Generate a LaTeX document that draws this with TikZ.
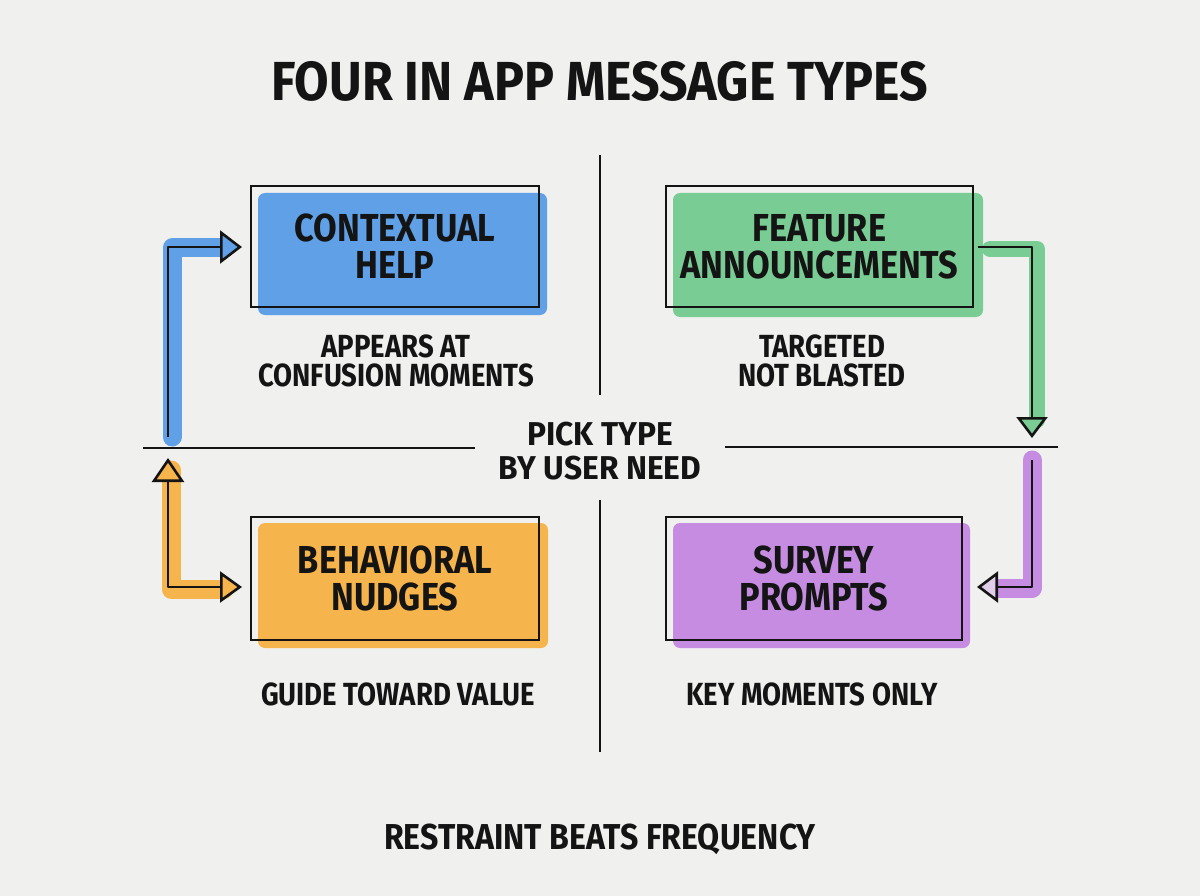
\documentclass[tikz,border=0pt]{standalone}
\usepackage{fontspec}
\setmainfont{Fira Sans}[FakeStretch=0.86]
\newfontfamily\titlefont{Fira Sans}[FakeStretch=0.91]
\newfontfamily\boxfont{Fira Sans}[FakeStretch=0.88]
\newfontfamily\subfont{Fira Sans}[FakeStretch=0.86]
\newfontfamily\centerfont{Fira Sans}[FakeStretch=0.96]
\newfontfamily\footfont{Fira Sans}[FakeStretch=0.89]
\usetikzlibrary{arrows.meta}
\definecolor{bg}{HTML}{F0F0EE}
\definecolor{cblue}{HTML}{5FA0E6}
\definecolor{cgreen}{HTML}{7ACC95}
\definecolor{corange}{HTML}{F6B44C}
\definecolor{cpurple}{HTML}{C58CE2}
\definecolor{ink}{HTML}{141414}
\begin{document}
\begin{tikzpicture}[x=1pt,y=-1pt,
  title/.style={font=\titlefont\bfseries\fontsize{55}{60}\selectfont, text=ink},
  boxlabel/.style={draw=ink, line width=2.8pt, align=center, inner sep=0pt,
    font=\boxfont\bfseries\fontsize{39}{37}\selectfont, text=ink},
  sublabel/.style={align=center, font=\subfont\bfseries\fontsize{32}{29}\selectfont, text=ink},
  centerlabel/.style={align=center, font=\centerfont\bfseries\fontsize{33}{34}\selectfont, text=ink},
  footlabel/.style={font=\footfont\bfseries\fontsize{36}{40}\selectfont, text=ink},
  divider/.style={draw=ink, line width=2pt},
  conn/.style={draw=ink, line width=2.6pt, line join=round},
  band/.style={line width=19pt, line cap=round, line join=round},
]
\fill[bg] (0,0) rectangle (1200,896);
\useasboundingbox (0,0) rectangle (1200,896);

% title
\node[title] (t) at (600,81) {FOUR IN APP MESSAGE TYPES};

% dividers
\coordinate (vt1) at (600,155); \coordinate (vb1) at (600,395);
\coordinate (vt2) at (600,500); \coordinate (vb2) at (600,752);
\coordinate (hl1) at (143,448); \coordinate (hr1) at (475,448);
\coordinate (hl2) at (725,447); \coordinate (hr2) at (1058,447);
\draw[divider] (vt1) -- (vb1);
\draw[divider] (vt2) -- (vb2);
\draw[divider] (hl1) -- (hr1);
\draw[divider] (hl2) -- (hr2);

% colour fills
\fill[cblue, rounded corners=7pt] (258,193) rectangle (547,315);
\fill[cgreen, rounded corners=7pt] (673,193) rectangle (983,317);
\fill[corange, rounded corners=7pt] (258,523) rectangle (548,648);
\fill[cpurple, rounded corners=7pt] (673,523) rectangle (970,648);

% colour bands under the connectors
\draw[cblue, band] (172,437) -- (172,248) -- (224,248);
\draw[cgreen, band, line width=16pt] (990,249) -- (1037,249) -- (1037,420);
\draw[corange, band] (171,470) -- (171,589) -- (224,589);
\draw[cpurple, band] (1032,460) -- (1032,588) -- (1000,588);

% boxes
\node[boxlabel, minimum width=288pt, minimum height=121pt] (ch) at (395,246.5) {CONTEXTUAL\\HELP};
\node[boxlabel, minimum width=307pt, minimum height=121pt] (fa) at (819.5,246.5) {FEATURE\\ANNOUNCEMENTS};
\node[boxlabel, minimum width=288pt, minimum height=123pt] (bn) at (395,578.5) {BEHAVIORAL\\NUDGES};
\node[boxlabel, minimum width=296pt, minimum height=123pt] (sp) at (814,578.5) {SURVEY\\PROMPTS};

% sub labels
\node[sublabel] (chs) at (396,361) {APPEARS AT\\CONFUSION MOMENTS};
\node[sublabel] (fas) at (822,361) {TARGETED\\NOT BLASTED};
\node[sublabel] (bns) at (398,694) {GUIDE TOWARD VALUE};
\node[sublabel] (sps) at (812,694) {KEY MOMENTS ONLY};
\node[centerlabel] (c) at (600,451) {PICK TYPE\\BY USER NEED};
\node[footlabel] (r) at (600,839) {RESTRAINT BEATS FREQUENCY};

% connectors
\coordinate (bS) at (168,437);
\coordinate (bT) at (242,247);
\draw[conn, -{Triangle[length=22pt,width=33pt,fill=cblue]}] (bS) |- (bT);

\coordinate (gS) at (978,247);
\coordinate (gT) at (1032,438);
\draw[conn, -{Triangle[length=21pt,width=31pt,fill=cgreen]}] (gS) -| (gT);

\coordinate (oT) at (168,458);
\coordinate (oR) at (242,587);
\draw[conn, {Triangle[length=24pt,width=32pt,fill=corange]}-{Triangle[length=22pt,width=31pt,fill=corange]}] (oT) |- (oR);

\coordinate (pS) at (1032,460);
\coordinate (pT) at (977,587);
\draw[conn, -{Triangle[length=21pt,width=31pt,fill=cpurple!35!bg]}] (pS) |- (pT);
\end{tikzpicture}
\end{document}
